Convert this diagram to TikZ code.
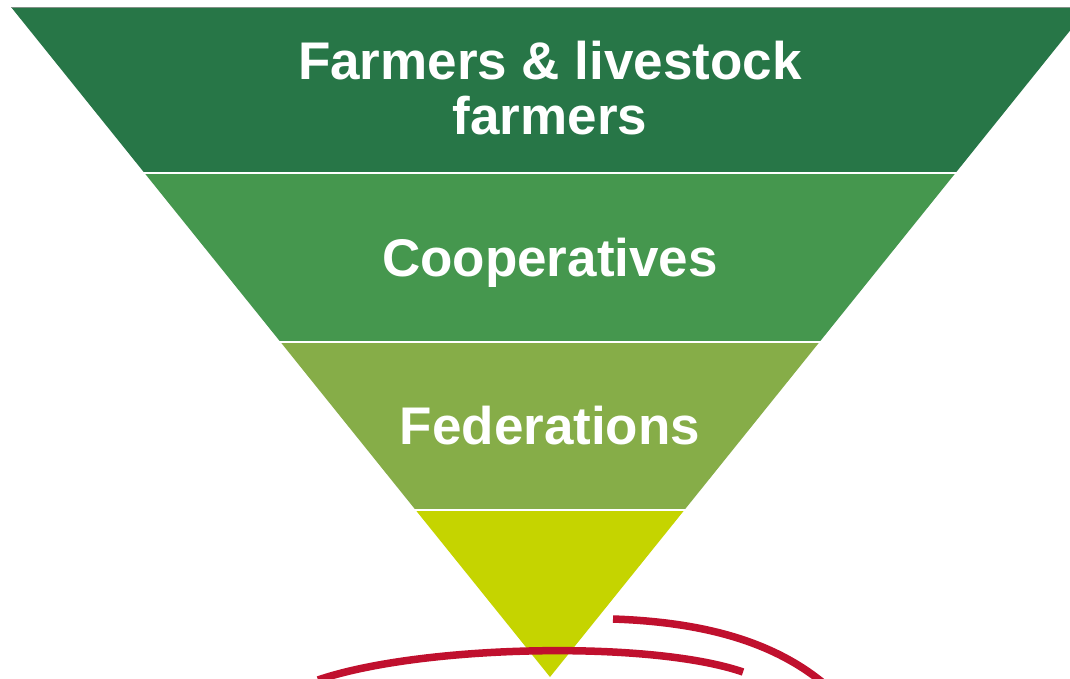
\documentclass[tikz,border=0pt]{standalone}
\usepackage{fontspec}
\setmainfont{Liberation Sans}
\definecolor{bandA}{RGB}{39,118,71}
\definecolor{bandB}{RGB}{69,151,78}
\definecolor{bandC}{RGB}{134,173,72}
\definecolor{bandD}{RGB}{197,212,0}
\definecolor{arcred}{RGB}{192,16,46}
\definecolor{topline}{RGB}{130,145,135}
\begin{document}
\begin{tikzpicture}[x=1pt,y=-1pt,
  lbl/.style={text=white,font=\bfseries\fontsize{53}{55}\selectfont,inner sep=0pt,align=center,anchor=base},
  sep/.style={draw=white,line width=2.2pt},
  redarc/.style={draw=arcred,line width=7.5pt,line cap=butt}]
\useasboundingbox (0,0) rectangle (1070,678);
\clip (0,0) rectangle (1070,678);
\fill[white] (0,0) rectangle (1070,678);
% bands
\fill[bandA] (11,7) -- (1089,7) -- (955.5,173) -- (144.5,173) -- cycle;
\fill[bandB] (144.5,173) -- (955.5,173) -- (819.5,342) -- (280.5,342) -- cycle;
\fill[bandC] (280.5,342) -- (819.5,342) -- (684.4,510) -- (415.6,510) -- cycle;
\fill[bandD] (415.6,510) -- (684.4,510) -- (550,677) -- cycle;
\draw[topline,line width=0.8pt] (11,7) -- (1089,7);
% separators
\draw[sep] (140,173) -- (960,173);
\draw[sep] (276,342) -- (824,342);
\draw[sep] (411,510) -- (689,510);
% labels
\node[lbl] (farm) at (550,134) {Farmers \& livestock\\farmers};
\node[lbl] (coop) at (550,276) {Cooperatives};
\node[lbl] (fed) at (550,444) {Federations};
% red arcs
\draw[redarc] (318,680) .. controls (420,645) and (650,640) .. (743,672);
\draw[redarc] (613,619) .. controls (700,622) and (770,640) .. (822,682);
\end{tikzpicture}
\end{document}
